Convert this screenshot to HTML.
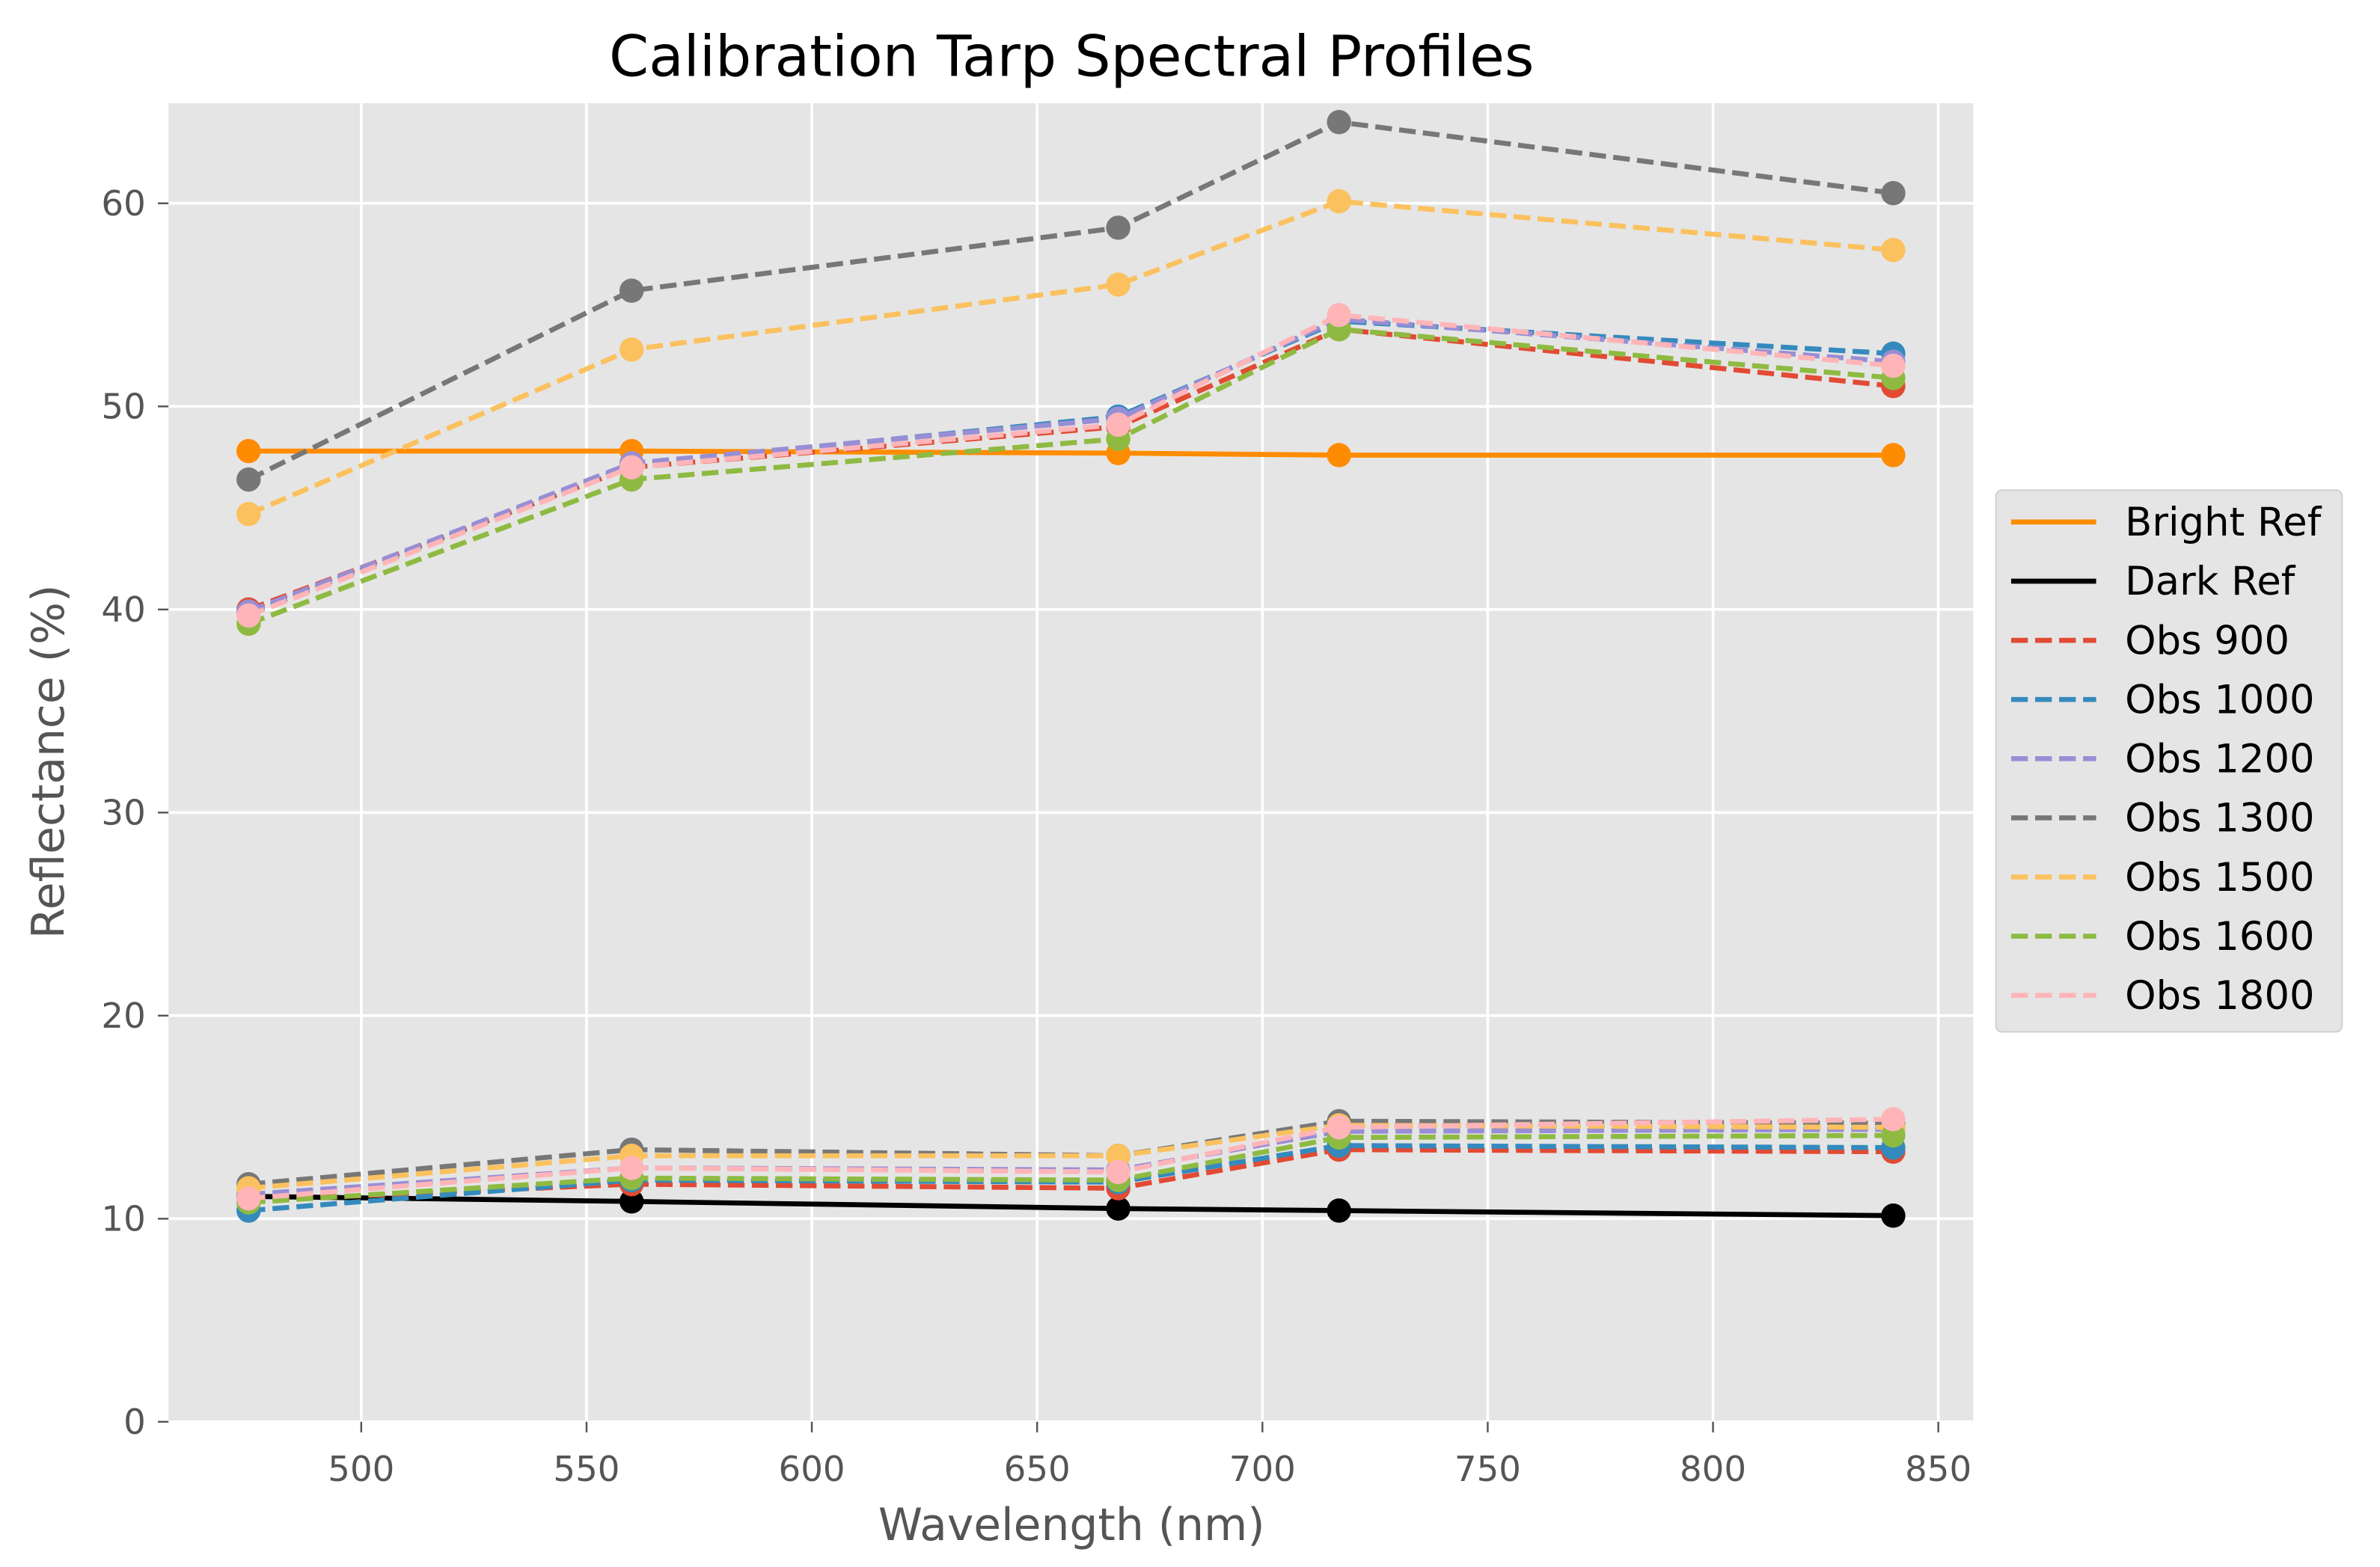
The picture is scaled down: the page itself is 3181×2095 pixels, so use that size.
<!DOCTYPE html>
<html><head><meta charset="utf-8"><style>
html,body{margin:0;padding:0;background:#fff;}
svg{display:block;font-family:"DejaVu Sans","Liberation Sans",sans-serif;}
</style></head><body>
<svg id="chart" width="3181" height="2095" viewBox="0 0 1568 1032.7" preserveAspectRatio="none" xmlns="http://www.w3.org/2000/svg">
<rect x="0" y="0" width="1568" height="1033" fill="#fff"/>
<rect x="111" y="68" width="1189" height="869" fill="#e5e5e5"/>
<g id="grid"></g>
<g id="series"></g>
<g id="axes"></g>
<text x="706" y="50" text-anchor="middle" font-size="37.5" fill="#000">Calibration Tarp Spectral Profiles</text>
<text x="706" y="1015" text-anchor="middle" font-size="29.5" fill="#555">Wavelength (nm)</text>
<text transform="translate(42,502) rotate(-90)" text-anchor="middle" font-size="29.5" fill="#555">Reflectance (%)</text>
<g id="legend">
<rect x="1315" y="323" width="228" height="357" rx="4" fill="#e5e5e5" stroke="#d0d0d0" stroke-width="1"/>
</g>
</svg>
<script>
const wavelengths = [475, 560, 668, 717, 840];
const xTicks = [500, 550, 600, 650, 700, 750, 800, 850];
const yTicks = [0, 10, 20, 30, 40, 50, 60];
const seriesNames = ["Bright Ref","Dark Ref","Obs 900","Obs 1000","Obs 1200","Obs 1300","Obs 1500","Obs 1600","Obs 1800"];
const seriesColors = ["#FF8C00","#000000","#E24A33","#348ABD","#988ED5","#777777","#FBC15E","#8EBA42","#FFB5B8"];
const brightRef = [47.8, 47.8, 47.7, 47.6, 47.6];
const darkRef = [11.1, 10.85, 10.5, 10.4, 10.15];
const obs900Hi = [40.0, 47.0, 49.0, 53.8, 51.0];
const obs900Lo = [10.9, 11.7, 11.5, 13.4, 13.3];
const obs1000Hi = [39.8, 47.1, 49.5, 54.2, 52.6];
const obs1000Lo = [10.4, 11.9, 11.8, 13.6, 13.5];
const obs1200Hi = [39.9, 47.2, 49.4, 54.3, 52.2];
const obs1200Lo = [11.2, 12.5, 12.4, 14.3, 14.4];
const obs1300Hi = [46.4, 55.7, 58.8, 64.0, 60.5];
const obs1300Lo = [11.7, 13.4, 13.1, 14.8, 14.7];
const obs1500Hi = [44.7, 52.8, 56.0, 60.1, 57.7];
const obs1500Lo = [11.5, 13.1, 13.1, 14.6, 14.5];
const obs1600Hi = [39.3, 46.4, 48.4, 53.8, 51.4];
const obs1600Lo = [10.8, 12.0, 11.9, 14.0, 14.1];
const obs1800Hi = [39.7, 47.0, 49.1, 54.5, 52.0];
const obs1800Lo = [11.0, 12.5, 12.3, 14.5, 14.9];

const NS = "http://www.w3.org/2000/svg";
function xS(v){ return 238 + (v - 500) * (1277 - 238) / 350; }
function yS(v){ return 937 - v * (937 - 134) / 60; }
function mk(tag, attrs, parent){
  const e = document.createElementNS(NS, tag);
  for (const k in attrs) e.setAttribute(k, attrs[k]);
  parent.appendChild(e);
  return e;
}
const grid = document.getElementById('grid');
const axes = document.getElementById('axes');
const series = document.getElementById('series');
const legend = document.getElementById('legend');

xTicks.forEach(t => {
  const g = mk('line', {x1:xS(t), x2:xS(t), y1:68, y2:937, stroke:'#fff', 'stroke-width':1.8}, grid);
  
  
  const tk = mk('line', {x1:xS(t), x2:xS(t), y1:937, y2:944, stroke:'#555', 'stroke-width':1.2}, axes);
  
  
  const lb = mk('text', {x:xS(t), y:976, 'text-anchor':'middle', 'font-size':23, fill:'#555'}, axes);
  lb.textContent = t;
  
  
});
yTicks.forEach(t => {
  const g = mk('line', {x1:111, x2:1300, y1:yS(t), y2:yS(t), stroke:'#fff', 'stroke-width':1.8}, grid);
  
  
  const tk = mk('line', {x1:104, x2:111, y1:yS(t), y2:yS(t), stroke:'#555', 'stroke-width':1.2}, axes);
  
  
  const lb = mk('text', {x:96, y:yS(t)+8, 'text-anchor':'end', 'font-size':23, fill:'#555'}, axes);
  lb.textContent = t;
  
  
});

const seriesData = [
  [brightRef], [darkRef],
  [obs900Hi, obs900Lo], [obs1000Hi, obs1000Lo], [obs1200Hi, obs1200Lo],
  [obs1300Hi, obs1300Lo], [obs1500Hi, obs1500Lo], [obs1600Hi, obs1600Lo], [obs1800Hi, obs1800Lo]
];
seriesData.forEach((arrs, i) => {
  const col = seriesColors[i];
  const dashed = i >= 2;
  arrs.forEach(vals => {
    const pts = vals.map((v, j) => xS(wavelengths[j]) + ',' + yS(v)).join(' ');
    const pl = mk('polyline', {points:pts, fill:'none', stroke:col, 'stroke-width':3.3, 'stroke-dasharray': dashed ? '11,4.8' : 'none'}, series);
    
    
    vals.forEach((v, j) => {
      const c = mk('circle', {cx:xS(wavelengths[j]), cy:yS(v), r:8, fill:col}, series);
      
      
    });
  });
  const ly = 344 + i * 39;
  const ll = mk('line', {x1:1325, x2:1381, y1:ly, y2:ly, stroke:col, 'stroke-width':3.3, 'stroke-dasharray': dashed ? '11,4.8' : 'none'}, legend);
  
  
  const lt = mk('text', {x:1400, y:ly+9, 'font-size':26, fill:'#000'}, legend);
  lt.textContent = seriesNames[i];
  
  
});
</script>
</body></html>
